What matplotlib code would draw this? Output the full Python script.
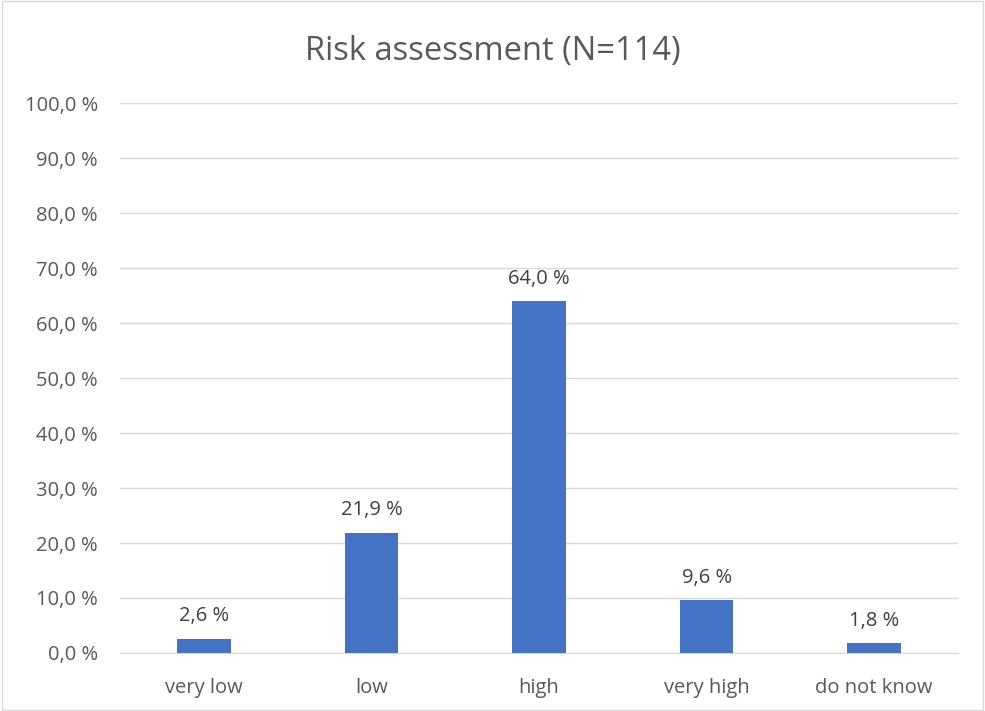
import matplotlib.pyplot as plt
import numpy as np

categories = ["very low", "low", "high", "very high", "do not know"]
shares = [2.6, 21.9, 64.0, 9.6, 1.8]
y_ticks = np.arange(0, 101, 10)

plt.rcParams['font.family'] = ['Open Sans', 'DejaVu Sans']

fig = plt.figure(figsize=(9.85, 7.11), dpi=100)
ax = fig.add_axes([0.1218, 0.0816, 0.8508, 0.7734])

x = np.arange(len(categories))
ax.bar(x, shares, width=0.32, color="#4472C4", zorder=3)

# value labels above each bar
for xi, v in zip(x, shares):
    ax.annotate(f"{v:.1f} %".replace(".", ","), (xi, v), xytext=(0, 9),
                textcoords="offset points", ha="center", va="bottom",
                fontsize=14.5, color="#404040")

ax.set_xlim(-0.5, len(categories) - 0.5)
ax.set_ylim(0, 100)
ax.set_yticks(y_ticks)
ax.set_yticklabels([f"{t:.1f} %".replace(".", ",") for t in y_ticks])
ax.set_xticks(x)
ax.set_xticklabels(categories)
ax.tick_params(axis="both", length=0, labelsize=14.5, labelcolor="#595959")
ax.tick_params(axis="x", pad=18)
ax.tick_params(axis="y", pad=16)
ax.grid(axis="y", color="#d9d9d9", linewidth=1, zorder=0)
for side in ["top", "right", "left"]:
    ax.spines[side].set_visible(False)
ax.spines["bottom"].set_color("#d9d9d9")

fig.text(0.5, 0.928, "Risk assessment (N=114)", ha="center", va="center",
         fontsize=23.5, color="#595959")

# light frame around the whole chart
fig.patches.append(plt.Rectangle((0.002, 0.002), 0.996, 0.996, transform=fig.transFigure,
                                 fill=False, edgecolor="#d9d9d9", linewidth=1))

fig.savefig("out.png", dpi=100)
